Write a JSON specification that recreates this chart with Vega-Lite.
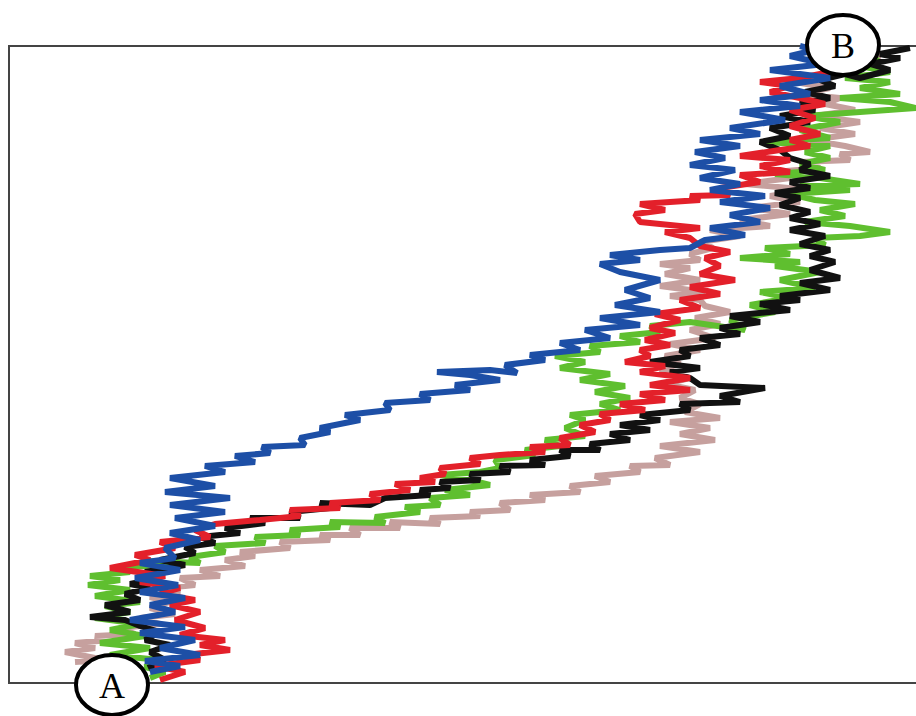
{
  "$schema": "https://vega.github.io/schema/vega-lite/v6.json",
  "width": 910,
  "height": 637,
  "autosize": {"type": "none"},
  "padding": {"left": 9, "top": 46, "right": 0, "bottom": 33},
  "background": "white",
  "config": {"view": {"stroke": "#444444", "strokeWidth": 2}},
  "datasets": {
    "paths": [
      {"s":"tan","x":75,"y":662},{"s":"tan","x":105,"y":660},{"s":"tan","x":65,"y":652},{"s":"tan","x":95,"y":648},{"s":"tan","x":75,"y":643},{"s":"tan","x":110,"y":640},{"s":"tan","x":95,"y":636},{"s":"tan","x":135,"y":634},{"s":"tan","x":120,"y":628},{"s":"tan","x":160,"y":624},{"s":"tan","x":140,"y":618},{"s":"tan","x":175,"y":614},{"s":"tan","x":150,"y":608},{"s":"tan","x":170,"y":602},{"s":"tan","x":150,"y":597},{"s":"tan","x":180,"y":593},{"s":"tan","x":165,"y":588},{"s":"tan","x":195,"y":585},{"s":"tan","x":180,"y":578},{"s":"tan","x":220,"y":576},{"s":"tan","x":200,"y":570},{"s":"tan","x":245,"y":566},{"s":"tan","x":225,"y":560},{"s":"tan","x":255,"y":556},{"s":"tan","x":240,"y":552},{"s":"tan","x":290,"y":548},{"s":"tan","x":280,"y":542},{"s":"tan","x":330,"y":540},{"s":"tan","x":320,"y":535},{"s":"tan","x":360,"y":535},{"s":"tan","x":350,"y":528},{"s":"tan","x":400,"y":528},{"s":"tan","x":390,"y":522},{"s":"tan","x":440,"y":524},{"s":"tan","x":430,"y":518},{"s":"tan","x":480,"y":516},{"s":"tan","x":470,"y":512},{"s":"tan","x":510,"y":510},{"s":"tan","x":500,"y":503},{"s":"tan","x":545,"y":500},{"s":"tan","x":530,"y":495},{"s":"tan","x":580,"y":492},{"s":"tan","x":570,"y":486},{"s":"tan","x":610,"y":482},{"s":"tan","x":595,"y":476},{"s":"tan","x":640,"y":472},{"s":"tan","x":630,"y":466},{"s":"tan","x":670,"y":465},{"s":"tan","x":655,"y":458},{"s":"tan","x":700,"y":452},{"s":"tan","x":660,"y":446},{"s":"tan","x":715,"y":440},{"s":"tan","x":680,"y":434},{"s":"tan","x":710,"y":428},{"s":"tan","x":670,"y":422},{"s":"tan","x":720,"y":418},{"s":"tan","x":685,"y":412},{"s":"tan","x":700,"y":404},{"s":"tan","x":680,"y":398},{"s":"tan","x":695,"y":390},{"s":"tan","x":665,"y":384},{"s":"tan","x":690,"y":378},{"s":"tan","x":660,"y":370},{"s":"tan","x":680,"y":364},{"s":"tan","x":665,"y":356},{"s":"tan","x":700,"y":350},{"s":"tan","x":670,"y":344},{"s":"tan","x":715,"y":338},{"s":"tan","x":690,"y":330},{"s":"tan","x":720,"y":324},{"s":"tan","x":695,"y":318},{"s":"tan","x":730,"y":312},{"s":"tan","x":705,"y":306},{"s":"tan","x":700,"y":300},{"s":"tan","x":670,"y":296},{"s":"tan","x":705,"y":292},{"s":"tan","x":660,"y":286},{"s":"tan","x":700,"y":280},{"s":"tan","x":665,"y":274},{"s":"tan","x":690,"y":268},{"s":"tan","x":660,"y":264},{"s":"tan","x":700,"y":260},{"s":"tan","x":690,"y":254},{"s":"tan","x":713,"y":248},{"s":"tan","x":700,"y":242},{"s":"tan","x":740,"y":236},{"s":"tan","x":710,"y":230},{"s":"tan","x":770,"y":226},{"s":"tan","x":740,"y":220},{"s":"tan","x":790,"y":214},{"s":"tan","x":750,"y":208},{"s":"tan","x":800,"y":202},{"s":"tan","x":770,"y":196},{"s":"tan","x":810,"y":190},{"s":"tan","x":745,"y":184},{"s":"tan","x":790,"y":178},{"s":"tan","x":775,"y":172},{"s":"tan","x":820,"y":168},{"s":"tan","x":800,"y":162},{"s":"tan","x":850,"y":160},{"s":"tan","x":840,"y":154},{"s":"tan","x":870,"y":152},{"s":"tan","x":845,"y":146},{"s":"tan","x":810,"y":140},{"s":"tan","x":855,"y":134},{"s":"tan","x":820,"y":128},{"s":"tan","x":860,"y":122},{"s":"tan","x":815,"y":116},{"s":"tan","x":855,"y":110},{"s":"tan","x":825,"y":104},{"s":"tan","x":840,"y":98},{"s":"tan","x":800,"y":94},{"s":"tan","x":830,"y":88},{"s":"tan","x":795,"y":82},{"s":"tan","x":830,"y":76},{"s":"tan","x":845,"y":70},{"s":"tan","x":860,"y":62},{"s":"tan","x":880,"y":56},{"s":"tan","x":870,"y":50},

      {"s":"green","x":150,"y":678},{"s":"green","x":165,"y":672},{"s":"green","x":145,"y":667},{"s":"green","x":160,"y":660},{"s":"green","x":110,"y":655},{"s":"green","x":150,"y":648},{"s":"green","x":100,"y":643},{"s":"green","x":145,"y":636},{"s":"green","x":110,"y":630},{"s":"green","x":140,"y":624},{"s":"green","x":95,"y":618},{"s":"green","x":130,"y":612},{"s":"green","x":105,"y":606},{"s":"green","x":140,"y":602},{"s":"green","x":95,"y":596},{"s":"green","x":130,"y":590},{"s":"green","x":88,"y":585},{"s":"green","x":120,"y":580},{"s":"green","x":90,"y":576},{"s":"green","x":130,"y":572},{"s":"green","x":115,"y":568},{"s":"green","x":160,"y":565},{"s":"green","x":145,"y":561},{"s":"green","x":200,"y":563},{"s":"green","x":190,"y":557},{"s":"green","x":225,"y":552},{"s":"green","x":215,"y":546},{"s":"green","x":265,"y":543},{"s":"green","x":255,"y":537},{"s":"green","x":300,"y":535},{"s":"green","x":290,"y":530},{"s":"green","x":340,"y":527},{"s":"green","x":330,"y":522},{"s":"green","x":385,"y":523},{"s":"green","x":375,"y":517},{"s":"green","x":420,"y":512},{"s":"green","x":405,"y":507},{"s":"green","x":440,"y":505},{"s":"green","x":430,"y":498},{"s":"green","x":470,"y":495},{"s":"green","x":445,"y":490},{"s":"green","x":490,"y":485},{"s":"green","x":470,"y":480},{"s":"green","x":440,"y":475},{"s":"green","x":480,"y":472},{"s":"green","x":500,"y":468},{"s":"green","x":495,"y":460},{"s":"green","x":535,"y":455},{"s":"green","x":525,"y":450},{"s":"green","x":560,"y":446},{"s":"green","x":545,"y":440},{"s":"green","x":585,"y":436},{"s":"green","x":565,"y":428},{"s":"green","x":585,"y":420},{"s":"green","x":570,"y":415},{"s":"green","x":620,"y":410},{"s":"green","x":600,"y":404},{"s":"green","x":630,"y":398},{"s":"green","x":595,"y":392},{"s":"green","x":625,"y":386},{"s":"green","x":580,"y":380},{"s":"green","x":610,"y":374},{"s":"green","x":560,"y":368},{"s":"green","x":585,"y":362},{"s":"green","x":555,"y":356},{"s":"green","x":600,"y":352},{"s":"green","x":590,"y":346},{"s":"green","x":640,"y":342},{"s":"green","x":620,"y":336},{"s":"green","x":660,"y":332},{"s":"green","x":650,"y":326},{"s":"green","x":690,"y":322},{"s":"green","x":745,"y":330},{"s":"green","x":730,"y":320},{"s":"green","x":775,"y":312},{"s":"green","x":750,"y":305},{"s":"green","x":790,"y":298},{"s":"green","x":760,"y":292},{"s":"green","x":815,"y":288},{"s":"green","x":780,"y":280},{"s":"green","x":820,"y":272},{"s":"green","x":775,"y":266},{"s":"green","x":800,"y":262},{"s":"green","x":740,"y":258},{"s":"green","x":790,"y":254},{"s":"green","x":765,"y":248},{"s":"green","x":825,"y":245},{"s":"green","x":815,"y":238},{"s":"green","x":860,"y":236},{"s":"green","x":890,"y":232},{"s":"green","x":850,"y":226},{"s":"green","x":805,"y":222},{"s":"green","x":845,"y":216},{"s":"green","x":820,"y":210},{"s":"green","x":855,"y":204},{"s":"green","x":815,"y":200},{"s":"green","x":790,"y":194},{"s":"green","x":850,"y":190},{"s":"green","x":800,"y":186},{"s":"green","x":860,"y":184},{"s":"green","x":820,"y":178},{"s":"green","x":775,"y":174},{"s":"green","x":825,"y":170},{"s":"green","x":800,"y":164},{"s":"green","x":830,"y":158},{"s":"green","x":805,"y":152},{"s":"green","x":830,"y":146},{"s":"green","x":765,"y":142},{"s":"green","x":830,"y":138},{"s":"green","x":800,"y":130},{"s":"green","x":840,"y":122},{"s":"green","x":805,"y":116},{"s":"green","x":860,"y":112},{"s":"green","x":916,"y":108},{"s":"green","x":890,"y":102},{"s":"green","x":840,"y":98},{"s":"green","x":900,"y":94},{"s":"green","x":860,"y":88},{"s":"green","x":890,"y":82},{"s":"green","x":845,"y":78},{"s":"green","x":890,"y":72},{"s":"green","x":860,"y":66},{"s":"green","x":880,"y":60},

      {"s":"black","x":148,"y":668},{"s":"black","x":165,"y":660},{"s":"black","x":150,"y":652},{"s":"black","x":170,"y":645},{"s":"black","x":145,"y":640},{"s":"black","x":160,"y":632},{"s":"black","x":140,"y":626},{"s":"black","x":125,"y":620},{"s":"black","x":90,"y":617},{"s":"black","x":130,"y":612},{"s":"black","x":105,"y":605},{"s":"black","x":140,"y":600},{"s":"black","x":125,"y":594},{"s":"black","x":150,"y":588},{"s":"black","x":130,"y":584},{"s":"black","x":160,"y":578},{"s":"black","x":145,"y":572},{"s":"black","x":185,"y":565},{"s":"black","x":160,"y":560},{"s":"black","x":195,"y":553},{"s":"black","x":185,"y":547},{"s":"black","x":215,"y":543},{"s":"black","x":200,"y":537},{"s":"black","x":240,"y":533},{"s":"black","x":225,"y":528},{"s":"black","x":265,"y":523},{"s":"black","x":250,"y":518},{"s":"black","x":300,"y":518},{"s":"black","x":290,"y":512},{"s":"black","x":330,"y":508},{"s":"black","x":320,"y":503},{"s":"black","x":370,"y":505},{"s":"black","x":385,"y":498},{"s":"black","x":430,"y":495},{"s":"black","x":420,"y":490},{"s":"black","x":450,"y":488},{"s":"black","x":440,"y":482},{"s":"black","x":480,"y":480},{"s":"black","x":470,"y":474},{"s":"black","x":510,"y":472},{"s":"black","x":500,"y":466},{"s":"black","x":545,"y":465},{"s":"black","x":530,"y":460},{"s":"black","x":570,"y":456},{"s":"black","x":560,"y":450},{"s":"black","x":600,"y":450},{"s":"black","x":590,"y":444},{"s":"black","x":630,"y":440},{"s":"black","x":610,"y":434},{"s":"black","x":650,"y":430},{"s":"black","x":620,"y":425},{"s":"black","x":660,"y":420},{"s":"black","x":640,"y":415},{"s":"black","x":690,"y":410},{"s":"black","x":680,"y":404},{"s":"black","x":740,"y":402},{"s":"black","x":720,"y":396},{"s":"black","x":765,"y":388},{"s":"black","x":700,"y":385},{"s":"black","x":690,"y":378},{"s":"black","x":670,"y":372},{"s":"black","x":700,"y":368},{"s":"black","x":650,"y":362},{"s":"black","x":690,"y":356},{"s":"black","x":680,"y":350},{"s":"black","x":720,"y":345},{"s":"black","x":700,"y":338},{"s":"black","x":740,"y":334},{"s":"black","x":720,"y":328},{"s":"black","x":760,"y":322},{"s":"black","x":730,"y":316},{"s":"black","x":790,"y":310},{"s":"black","x":760,"y":304},{"s":"black","x":800,"y":300},{"s":"black","x":780,"y":296},{"s":"black","x":830,"y":290},{"s":"black","x":800,"y":283},{"s":"black","x":840,"y":278},{"s":"black","x":810,"y":270},{"s":"black","x":835,"y":262},{"s":"black","x":810,"y":256},{"s":"black","x":830,"y":250},{"s":"black","x":800,"y":244},{"s":"black","x":825,"y":236},{"s":"black","x":790,"y":230},{"s":"black","x":820,"y":224},{"s":"black","x":790,"y":218},{"s":"black","x":810,"y":212},{"s":"black","x":780,"y":205},{"s":"black","x":800,"y":198},{"s":"black","x":775,"y":193},{"s":"black","x":810,"y":188},{"s":"black","x":790,"y":182},{"s":"black","x":830,"y":176},{"s":"black","x":800,"y":170},{"s":"black","x":810,"y":164},{"s":"black","x":790,"y":158},{"s":"black","x":780,"y":150},{"s":"black","x":760,"y":142},{"s":"black","x":790,"y":136},{"s":"black","x":770,"y":128},{"s":"black","x":810,"y":122},{"s":"black","x":780,"y":116},{"s":"black","x":815,"y":110},{"s":"black","x":800,"y":104},{"s":"black","x":830,"y":98},{"s":"black","x":805,"y":92},{"s":"black","x":835,"y":86},{"s":"black","x":820,"y":80},{"s":"black","x":845,"y":74},{"s":"black","x":860,"y":78},{"s":"black","x":890,"y":70},{"s":"black","x":870,"y":64},{"s":"black","x":900,"y":58},{"s":"black","x":880,"y":54},{"s":"black","x":910,"y":48},

      {"s":"red","x":160,"y":680},{"s":"red","x":185,"y":672},{"s":"red","x":155,"y":666},{"s":"red","x":200,"y":660},{"s":"red","x":185,"y":655},{"s":"red","x":230,"y":650},{"s":"red","x":200,"y":645},{"s":"red","x":225,"y":640},{"s":"red","x":180,"y":635},{"s":"red","x":205,"y":628},{"s":"red","x":175,"y":620},{"s":"red","x":200,"y":612},{"s":"red","x":170,"y":605},{"s":"red","x":195,"y":600},{"s":"red","x":160,"y":594},{"s":"red","x":180,"y":588},{"s":"red","x":140,"y":582},{"s":"red","x":165,"y":576},{"s":"red","x":110,"y":568},{"s":"red","x":150,"y":560},{"s":"red","x":135,"y":555},{"s":"red","x":175,"y":548},{"s":"red","x":160,"y":542},{"s":"red","x":210,"y":537},{"s":"red","x":195,"y":530},{"s":"red","x":215,"y":524},{"s":"red","x":260,"y":520},{"s":"red","x":300,"y":516},{"s":"red","x":290,"y":510},{"s":"red","x":340,"y":508},{"s":"red","x":330,"y":503},{"s":"red","x":380,"y":500},{"s":"red","x":370,"y":494},{"s":"red","x":410,"y":490},{"s":"red","x":395,"y":484},{"s":"red","x":435,"y":482},{"s":"red","x":420,"y":478},{"s":"red","x":445,"y":474},{"s":"red","x":440,"y":468},{"s":"red","x":480,"y":464},{"s":"red","x":470,"y":458},{"s":"red","x":500,"y":455},{"s":"red","x":545,"y":452},{"s":"red","x":530,"y":447},{"s":"red","x":570,"y":445},{"s":"red","x":560,"y":438},{"s":"red","x":595,"y":432},{"s":"red","x":580,"y":425},{"s":"red","x":610,"y":420},{"s":"red","x":600,"y":414},{"s":"red","x":645,"y":410},{"s":"red","x":620,"y":404},{"s":"red","x":665,"y":400},{"s":"red","x":640,"y":394},{"s":"red","x":690,"y":390},{"s":"red","x":650,"y":385},{"s":"red","x":690,"y":378},{"s":"red","x":640,"y":372},{"s":"red","x":665,"y":366},{"s":"red","x":625,"y":362},{"s":"red","x":650,"y":356},{"s":"red","x":640,"y":350},{"s":"red","x":670,"y":345},{"s":"red","x":645,"y":340},{"s":"red","x":675,"y":333},{"s":"red","x":650,"y":328},{"s":"red","x":680,"y":320},{"s":"red","x":655,"y":314},{"s":"red","x":700,"y":308},{"s":"red","x":680,"y":300},{"s":"red","x":720,"y":294},{"s":"red","x":690,"y":287},{"s":"red","x":735,"y":280},{"s":"red","x":700,"y":274},{"s":"red","x":720,"y":266},{"s":"red","x":705,"y":258},{"s":"red","x":730,"y":252},{"s":"red","x":700,"y":246},{"s":"red","x":690,"y":238},{"s":"red","x":665,"y":232},{"s":"red","x":700,"y":228},{"s":"red","x":640,"y":222},{"s":"red","x":635,"y":214},{"s":"red","x":665,"y":210},{"s":"red","x":640,"y":204},{"s":"red","x":700,"y":200},{"s":"red","x":690,"y":196},{"s":"red","x":730,"y":195},{"s":"red","x":720,"y":188},{"s":"red","x":760,"y":182},{"s":"red","x":740,"y":175},{"s":"red","x":790,"y":172},{"s":"red","x":760,"y":166},{"s":"red","x":790,"y":160},{"s":"red","x":740,"y":156},{"s":"red","x":780,"y":150},{"s":"red","x":810,"y":146},{"s":"red","x":790,"y":140},{"s":"red","x":820,"y":134},{"s":"red","x":790,"y":126},{"s":"red","x":815,"y":118},{"s":"red","x":790,"y":110},{"s":"red","x":825,"y":104},{"s":"red","x":800,"y":98},{"s":"red","x":770,"y":92},{"s":"red","x":790,"y":86},{"s":"red","x":760,"y":82},{"s":"red","x":800,"y":78},{"s":"red","x":830,"y":72},

      {"s":"blue","x":150,"y":672},{"s":"blue","x":180,"y":666},{"s":"blue","x":145,"y":661},{"s":"blue","x":200,"y":655},{"s":"blue","x":160,"y":648},{"s":"blue","x":195,"y":640},{"s":"blue","x":140,"y":633},{"s":"blue","x":185,"y":627},{"s":"blue","x":130,"y":620},{"s":"blue","x":175,"y":612},{"s":"blue","x":150,"y":605},{"s":"blue","x":185,"y":598},{"s":"blue","x":140,"y":592},{"s":"blue","x":178,"y":585},{"s":"blue","x":135,"y":578},{"s":"blue","x":180,"y":570},{"s":"blue","x":140,"y":563},{"s":"blue","x":175,"y":558},{"s":"blue","x":165,"y":548},{"s":"blue","x":200,"y":540},{"s":"blue","x":170,"y":533},{"s":"blue","x":215,"y":526},{"s":"blue","x":175,"y":518},{"s":"blue","x":225,"y":512},{"s":"blue","x":170,"y":505},{"s":"blue","x":230,"y":498},{"s":"blue","x":165,"y":492},{"s":"blue","x":215,"y":486},{"s":"blue","x":170,"y":478},{"s":"blue","x":225,"y":472},{"s":"blue","x":205,"y":466},{"s":"blue","x":255,"y":462},{"s":"blue","x":235,"y":456},{"s":"blue","x":270,"y":453},{"s":"blue","x":262,"y":447},{"s":"blue","x":305,"y":445},{"s":"blue","x":300,"y":438},{"s":"blue","x":330,"y":432},{"s":"blue","x":320,"y":428},{"s":"blue","x":360,"y":420},{"s":"blue","x":345,"y":415},{"s":"blue","x":390,"y":410},{"s":"blue","x":385,"y":403},{"s":"blue","x":430,"y":400},{"s":"blue","x":420,"y":394},{"s":"blue","x":470,"y":390},{"s":"blue","x":455,"y":385},{"s":"blue","x":500,"y":380},{"s":"blue","x":470,"y":375},{"s":"blue","x":437,"y":372},{"s":"blue","x":490,"y":370},{"s":"blue","x":517,"y":373},{"s":"blue","x":505,"y":365},{"s":"blue","x":545,"y":360},{"s":"blue","x":530,"y":355},{"s":"blue","x":580,"y":350},{"s":"blue","x":560,"y":343},{"s":"blue","x":610,"y":338},{"s":"blue","x":585,"y":330},{"s":"blue","x":640,"y":325},{"s":"blue","x":600,"y":318},{"s":"blue","x":660,"y":312},{"s":"blue","x":615,"y":305},{"s":"blue","x":650,"y":298},{"s":"blue","x":625,"y":290},{"s":"blue","x":660,"y":280},{"s":"blue","x":620,"y":272},{"s":"blue","x":600,"y":264},{"s":"blue","x":640,"y":260},{"s":"blue","x":610,"y":255},{"s":"blue","x":660,"y":250},{"s":"blue","x":690,"y":248},{"s":"blue","x":705,"y":240},{"s":"blue","x":745,"y":235},{"s":"blue","x":710,"y":228},{"s":"blue","x":760,"y":222},{"s":"blue","x":730,"y":215},{"s":"blue","x":770,"y":208},{"s":"blue","x":720,"y":202},{"s":"blue","x":765,"y":196},{"s":"blue","x":710,"y":190},{"s":"blue","x":740,"y":184},{"s":"blue","x":700,"y":178},{"s":"blue","x":735,"y":170},{"s":"blue","x":690,"y":165},{"s":"blue","x":725,"y":158},{"s":"blue","x":695,"y":152},{"s":"blue","x":740,"y":146},{"s":"blue","x":700,"y":140},{"s":"blue","x":760,"y":134},{"s":"blue","x":730,"y":128},{"s":"blue","x":785,"y":120},{"s":"blue","x":740,"y":112},{"s":"blue","x":800,"y":106},{"s":"blue","x":760,"y":100},{"s":"blue","x":810,"y":94},{"s":"blue","x":780,"y":86},{"s":"blue","x":830,"y":78},{"s":"blue","x":770,"y":70},{"s":"blue","x":825,"y":64},{"s":"blue","x":790,"y":56},{"s":"blue","x":815,"y":50},{"s":"blue","x":800,"y":46}
    ],
    "ends": [
      {"label": "A", "x": 112, "y": 685},
      {"label": "B", "x": 843, "y": 45}
    ]
  },
  "layer": [
    {
      "data": {"name": "paths"},
      "mark": {"type": "line", "strokeWidth": 6, "strokeJoin": "bevel"},
      "encoding": {
        "x": {"field": "x", "type": "quantitative", "scale": {"domain": [9, 919], "nice": false, "zero": false}, "axis": null},
        "y": {"field": "y", "type": "quantitative", "scale": {"domain": [46, 683], "nice": false, "zero": false, "reverse": true}, "axis": null},
        "color": {"field": "s", "type": "nominal", "scale": {"domain": ["tan", "green", "black", "red", "blue"], "range": ["#c6a09e", "#5fbf2f", "#111111", "#e3202a", "#1d4fa6"]}, "legend": null},
        "order": {"value": null}
      }
    },
    {
      "data": {"name": "ends"},
      "mark": {"type": "point", "shape": "M -1 0 A 1 0.83 0 1 1 1 0 A 1 0.83 0 1 1 -1 0 Z", "size": 5184, "filled": false, "fill": "white", "fillOpacity": 1, "stroke": "black", "strokeWidth": 4, "opacity": 1},
      "encoding": {
        "x": {"field": "x", "type": "quantitative", "scale": {"domain": [9, 919], "nice": false, "zero": false}, "axis": null},
        "y": {"field": "y", "type": "quantitative", "scale": {"domain": [46, 683], "nice": false, "zero": false, "reverse": true}, "axis": null}
      }
    },
    {
      "data": {"name": "ends"},
      "mark": {"type": "text", "font": "Liberation Serif", "fontSize": 36, "align": "center", "baseline": "middle", "dy": 2, "color": "black"},
      "encoding": {
        "x": {"field": "x", "type": "quantitative", "scale": {"domain": [9, 919], "nice": false, "zero": false}, "axis": null},
        "y": {"field": "y", "type": "quantitative", "scale": {"domain": [46, 683], "nice": false, "zero": false, "reverse": true}, "axis": null},
        "text": {"field": "label"}
      }
    }
  ]
}
